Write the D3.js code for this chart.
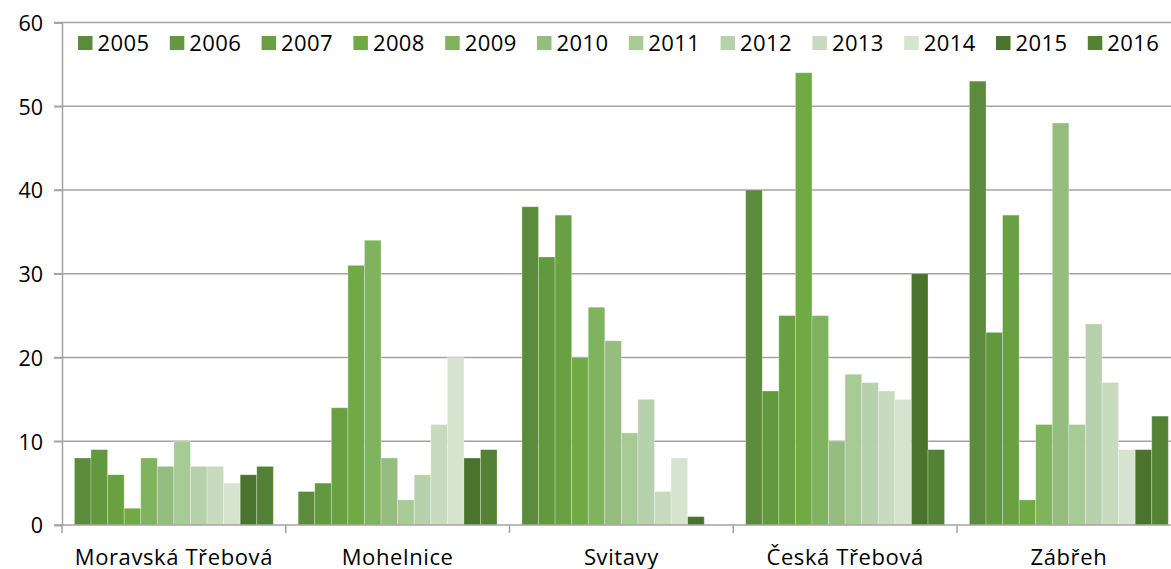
<!DOCTYPE html>
<html><head><meta charset="utf-8">
<script src="https://cdn.jsdelivr.net/npm/d3@7"></script>
<style>html,body{margin:0;padding:0;background:#fff;overflow:hidden}svg{display:block}</style>
</head><body>
<svg id="c" width="1171" height="569"></svg>
<script>
const categories = ["Moravská Třebová","Mohelnice","Svitavy","Česká Třebová","Zábřeh"];
const years = ["2005","2006","2007","2008","2009","2010","2011","2012","2013","2014","2015","2016"];
const v2005 = [8, 4, 38, 40, 53];
const v2006 = [9, 5, 32, 16, 23];
const v2007 = [6, 14, 37, 25, 37];
const v2008 = [2, 31, 20, 54, 3];
const v2009 = [8, 34, 26, 25, 12];
const v2010 = [7, 8, 22, 10, 48];
const v2011 = [10, 3, 11, 18, 12];
const v2012 = [7, 6, 15, 17, 24];
const v2013 = [7, 12, 4, 16, 17];
const v2014 = [5, 20, 8, 15, 9];
const v2015 = [6, 8, 1, 30, 9];
const v2016 = [7, 9, null, 9, 13];
const yTicks = [0,10,20,30,40,50,60];
const colors = ["#5b8c3b","#62983e","#68a042","#70aa45","#7fb35e","#96bd80","#a8cb96","#b7d1ac","#c8dbbf","#d6e3cf","#4a732e","#538234"];

const series = [v2005,v2006,v2007,v2008,v2009,v2010,v2011,v2012,v2013,v2014,v2015,v2016];
const svg = d3.select("#c");
const font = "'Open Sans', 'Liberation Sans', sans-serif";

const x0 = d3.scaleBand().domain(categories).range([62, 1180.75]).paddingInner(0).paddingOuter(0);
const bw = x0.bandwidth();
const unit = bw / 13.5;
const x1 = d3.scaleBand().domain(years).range([unit*0.75, bw - unit*0.75]).padding(0);
const y = d3.scaleLinear().domain([0,60]).range([525, 22.5]);

// gridlines
svg.append("g").selectAll("line").data(yTicks.filter(t=>t>0)).join("line")
  .attr("x1", 54).attr("x2", 1171)
  .attr("y1", d=>y(d)).attr("y2", d=>y(d))
  .attr("stroke", "#a3a3a3").attr("stroke-width", 1.5);

// y axis
const yAxis = d3.axisLeft(y).tickValues(yTicks).tickSize(8).tickPadding(11).tickFormat(d3.format("d"));
const ya = svg.append("g").attr("transform","translate(62,0)").call(yAxis);
ya.select(".domain").attr("stroke","#a3a3a3").attr("stroke-width",1.5);
ya.selectAll(".tick line").attr("stroke","#a3a3a3").attr("stroke-width",1.5);
ya.selectAll(".tick text").attr("font-family",font).attr("font-size",21.5).attr("fill","#000").attr("dy","0.36em");

// bars
const groups = svg.append("g").selectAll("g").data(categories).join("g")
  .attr("transform", d=>`translate(${x0(d)},0)`);
groups.selectAll("rect").data((c,ci)=>years.map((yr,si)=>({yr, v: series[si][ci], si})).filter(d=>d.v!=null && d.v>0))
  .join("rect")
  .attr("x", d=>x1(d.yr)).attr("width", x1.bandwidth())
  .attr("y", d=>y(d.v)).attr("height", d=>y(0)-y(d.v))
  .attr("fill", d=>colors[d.si])
  .attr("stroke", "rgba(255,255,255,0.35)").attr("stroke-width", 0.8);

// x axis
const xAxis = d3.axisBottom(x0).tickSize(0).tickPadding(0).tickFormat("");
const xa = svg.append("g").attr("transform","translate(0,525)").call(xAxis);
xa.select(".domain").attr("stroke","#a3a3a3").attr("stroke-width",1.5).attr("d","M54,0H1171");
const bounds = categories.map(c=>x0(c)).concat([x0.range()[1]]);
xa.selectAll(".bound").data(bounds).join("line").attr("class","bound")
  .attr("x1",d=>d).attr("x2",d=>d).attr("y1",0).attr("y2",8)
  .attr("stroke","#a3a3a3").attr("stroke-width",1.5);
xa.selectAll(".lbl").data(categories).join("text").attr("class","lbl")
  .attr("x", d=>x0(d)+bw/2).attr("y", 40)
  .attr("text-anchor","middle").attr("font-family",font).attr("font-size",22).attr("letter-spacing","0.6px").attr("fill","#000")
  .text(d=>d);

// legend
const lg = svg.append("g").selectAll("g").data(years).join("g")
  .attr("transform",(d,i)=>`translate(${78 + i*91.8},36)`);
lg.append("rect").attr("width",14.5).attr("height",14).attr("fill",(d,i)=>colors[i]);
lg.append("text").attr("x",19.5).attr("y",14.5).attr("font-family",font).attr("font-size",22).attr("letter-spacing","0.4px").attr("fill","#000").text(d=>d);
</script>
</body></html>
